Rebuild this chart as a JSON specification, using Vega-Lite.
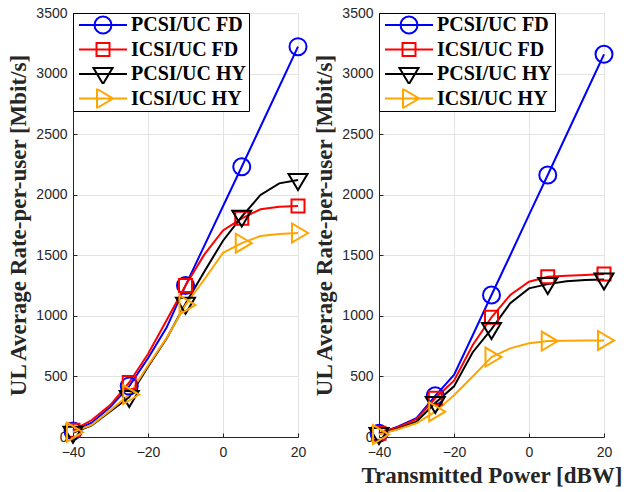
{
  "$schema": "https://vega.github.io/schema/vega-lite/v6.json",
  "background": "white",
  "padding": {"left": 7, "top": 6, "right": 0, "bottom": 0},
  "bounds": "flush",
  "spacing": 81,
  "config": {
    "view": {"stroke": null},
    "axis": {
      "labelFont": "Liberation Sans", "labelFontSize": 14, "labelColor": "#262626",
      "titleFont": "Liberation Serif", "titleFontWeight": "bold", "titleFontSize": 23, "titleColor": "#262626",
      "gridColor": "#e3e3e3", "gridWidth": 1, "domainColor": "#262626", "domainWidth": 1,
      "ticks": true, "tickSize": -4, "tickColor": "#262626", "tickWidth": 1, "titlePadding": 5, "format": "d", "labelFlush": false
    },
    "axisX": {"labelPadding": 12},
    "axisY": {"labelPadding": 10},
    "legend": {"title": null, "orient": "top-left", "offset": 0, "padding": 2, "strokeColor": "#000000", "fillColor": "#ffffff", "symbolSize": 2304, "symbolStrokeWidth": 2, "symbolOffset": 3, "labelOffset": 3, "clipHeight": 20, "labelFont": "Liberation Serif", "labelFontWeight": "bold", "labelFontSize": 20, "labelColor": "#000000", "rowPadding": 4.5}
  },
  "resolve": {"scale": {"color": "independent", "shape": "independent", "x": "independent", "y": "independent"}, "legend": {"color": "independent", "shape": "independent"}},
  "data": {"values": [
    {"p":"L","s":"PCSI/UC FD","x":-40,"y":50},{"p":"L","s":"PCSI/UC FD","x":-35,"y":118},{"p":"L","s":"PCSI/UC FD","x":-30,"y":250},{"p":"L","s":"PCSI/UC FD","x":-25,"y":420},{"p":"L","s":"PCSI/UC FD","x":-20,"y":650},{"p":"L","s":"PCSI/UC FD","x":-15,"y":905},{"p":"L","s":"PCSI/UC FD","x":-10,"y":1250},{"p":"L","s":"PCSI/UC FD","x":-5,"y":1578},{"p":"L","s":"PCSI/UC FD","x":0,"y":1905},{"p":"L","s":"PCSI/UC FD","x":5,"y":2231},{"p":"L","s":"PCSI/UC FD","x":10,"y":2561},{"p":"L","s":"PCSI/UC FD","x":15,"y":2891},{"p":"L","s":"PCSI/UC FD","x":20,"y":3222},
    {"p":"L","s":"ICSI/UC FD","x":-40,"y":55},{"p":"L","s":"ICSI/UC FD","x":-35,"y":140},{"p":"L","s":"ICSI/UC FD","x":-30,"y":265},{"p":"L","s":"ICSI/UC FD","x":-25,"y":450},{"p":"L","s":"ICSI/UC FD","x":-20,"y":685},{"p":"L","s":"ICSI/UC FD","x":-15,"y":965},{"p":"L","s":"ICSI/UC FD","x":-10,"y":1250},{"p":"L","s":"ICSI/UC FD","x":-5,"y":1505},{"p":"L","s":"ICSI/UC FD","x":0,"y":1705},{"p":"L","s":"ICSI/UC FD","x":5,"y":1805},{"p":"L","s":"ICSI/UC FD","x":10,"y":1880},{"p":"L","s":"ICSI/UC FD","x":15,"y":1900},{"p":"L","s":"ICSI/UC FD","x":20,"y":1907},
    {"p":"L","s":"PCSI/UC HY","x":-40,"y":35},{"p":"L","s":"PCSI/UC HY","x":-35,"y":95},{"p":"L","s":"PCSI/UC HY","x":-30,"y":212},{"p":"L","s":"PCSI/UC HY","x":-25,"y":330},{"p":"L","s":"PCSI/UC HY","x":-20,"y":580},{"p":"L","s":"PCSI/UC HY","x":-15,"y":815},{"p":"L","s":"PCSI/UC HY","x":-10,"y":1100},{"p":"L","s":"PCSI/UC HY","x":-5,"y":1365},{"p":"L","s":"PCSI/UC HY","x":0,"y":1620},{"p":"L","s":"PCSI/UC HY","x":5,"y":1819},{"p":"L","s":"PCSI/UC HY","x":10,"y":1998},{"p":"L","s":"PCSI/UC HY","x":15,"y":2094},{"p":"L","s":"PCSI/UC HY","x":20,"y":2122},
    {"p":"L","s":"ICSI/UC HY","x":-40,"y":40},{"p":"L","s":"ICSI/UC HY","x":-35,"y":100},{"p":"L","s":"ICSI/UC HY","x":-30,"y":222},{"p":"L","s":"ICSI/UC HY","x":-25,"y":350},{"p":"L","s":"ICSI/UC HY","x":-20,"y":590},{"p":"L","s":"ICSI/UC HY","x":-15,"y":820},{"p":"L","s":"ICSI/UC HY","x":-10,"y":1090},{"p":"L","s":"ICSI/UC HY","x":-5,"y":1300},{"p":"L","s":"ICSI/UC HY","x":0,"y":1520},{"p":"L","s":"ICSI/UC HY","x":5,"y":1600},{"p":"L","s":"ICSI/UC HY","x":10,"y":1659},{"p":"L","s":"ICSI/UC HY","x":15,"y":1676},{"p":"L","s":"ICSI/UC HY","x":20,"y":1684},
    {"p":"R","s":"PCSI/UC FD","x":-40,"y":30},{"p":"R","s":"PCSI/UC FD","x":-35,"y":85},{"p":"R","s":"PCSI/UC FD","x":-30,"y":155},{"p":"R","s":"PCSI/UC FD","x":-25,"y":340},{"p":"R","s":"PCSI/UC FD","x":-20,"y":512},{"p":"R","s":"PCSI/UC FD","x":-15,"y":840},{"p":"R","s":"PCSI/UC FD","x":-10,"y":1172},{"p":"R","s":"PCSI/UC FD","x":-5,"y":1500},{"p":"R","s":"PCSI/UC FD","x":0,"y":1833},{"p":"R","s":"PCSI/UC FD","x":5,"y":2163},{"p":"R","s":"PCSI/UC FD","x":10,"y":2495},{"p":"R","s":"PCSI/UC FD","x":15,"y":2827},{"p":"R","s":"PCSI/UC FD","x":20,"y":3159},
    {"p":"R","s":"ICSI/UC FD","x":-40,"y":30},{"p":"R","s":"ICSI/UC FD","x":-35,"y":80},{"p":"R","s":"ICSI/UC FD","x":-30,"y":148},{"p":"R","s":"ICSI/UC FD","x":-25,"y":320},{"p":"R","s":"ICSI/UC FD","x":-20,"y":465},{"p":"R","s":"ICSI/UC FD","x":-15,"y":760},{"p":"R","s":"ICSI/UC FD","x":-10,"y":988},{"p":"R","s":"ICSI/UC FD","x":-5,"y":1172},{"p":"R","s":"ICSI/UC FD","x":0,"y":1282},{"p":"R","s":"ICSI/UC FD","x":5,"y":1323},{"p":"R","s":"ICSI/UC FD","x":10,"y":1332},{"p":"R","s":"ICSI/UC FD","x":15,"y":1337},{"p":"R","s":"ICSI/UC FD","x":20,"y":1345},
    {"p":"R","s":"PCSI/UC HY","x":-40,"y":25},{"p":"R","s":"PCSI/UC HY","x":-35,"y":66},{"p":"R","s":"PCSI/UC HY","x":-30,"y":126},{"p":"R","s":"PCSI/UC HY","x":-25,"y":280},{"p":"R","s":"PCSI/UC HY","x":-20,"y":418},{"p":"R","s":"PCSI/UC HY","x":-15,"y":700},{"p":"R","s":"PCSI/UC HY","x":-10,"y":891},{"p":"R","s":"PCSI/UC HY","x":-5,"y":1104},{"p":"R","s":"PCSI/UC HY","x":0,"y":1227},{"p":"R","s":"PCSI/UC HY","x":5,"y":1262},{"p":"R","s":"PCSI/UC HY","x":10,"y":1285},{"p":"R","s":"PCSI/UC HY","x":15,"y":1295},{"p":"R","s":"PCSI/UC HY","x":20,"y":1300},
    {"p":"R","s":"ICSI/UC HY","x":-40,"y":20},{"p":"R","s":"ICSI/UC HY","x":-35,"y":63},{"p":"R","s":"ICSI/UC HY","x":-30,"y":113},{"p":"R","s":"ICSI/UC HY","x":-25,"y":209},{"p":"R","s":"ICSI/UC HY","x":-20,"y":345},{"p":"R","s":"ICSI/UC HY","x":-15,"y":500},{"p":"R","s":"ICSI/UC HY","x":-10,"y":660},{"p":"R","s":"ICSI/UC HY","x":-5,"y":732},{"p":"R","s":"ICSI/UC HY","x":0,"y":773},{"p":"R","s":"ICSI/UC HY","x":5,"y":792},{"p":"R","s":"ICSI/UC HY","x":10,"y":795},{"p":"R","s":"ICSI/UC HY","x":15,"y":797},{"p":"R","s":"ICSI/UC HY","x":20,"y":797}
  ]},
  "hconcat": [
    {
      "width": 225, "height": 424,
      "transform": [{"filter": {"field": "p", "equal": "L"}}],
      "resolve": {"legend": {"color": "independent", "shape": "independent"}},
      "encoding": {
        "x": {"field": "x", "type": "quantitative", "scale": {"domain": [-40, 20], "nice": false}, "axis": {"values": [-40, -20, 0, 20], "title": null}},
        "y": {"field": "y", "type": "quantitative", "scale": {"domain": [0, 3500], "nice": false}, "axis": {"values": [0, 500, 1000, 1500, 2000, 2500, 3000, 3500], "title": "UL Average Rate-per-user [Mbit/s]"}}
      },
      "layer": [
        {"mark": {"type": "line", "strokeWidth": 2},
         "encoding": {"color": {"field": "s", "type": "nominal", "scale": {"domain": ["PCSI/UC FD", "ICSI/UC FD", "PCSI/UC HY", "ICSI/UC HY"], "range": ["#0000ff", "#ff0000", "#000000", "#ffa500"]},
          "legend": {"encode": {"symbols": {"update": {"shape": {"signal": "datum.value === 'PCSI/UC FD' ? 'M-1,0L1,0M0.354,0A0.354,0.354,0,1,1,-0.354,0A0.354,0.354,0,1,1,0.354,0' : datum.value === 'ICSI/UC FD' ? 'M-1,0L1,0M-0.271,-0.271L0.271,-0.271L0.271,0.271L-0.271,0.271Z' : datum.value === 'PCSI/UC HY' ? 'M-1,0L1,0M-0.396,-0.25L0.396,-0.25L0,0.417Z' : 'M-1,0L1,0M-0.25,-0.396L-0.25,0.396L0.417,0Z'"}, "fill": {"value": "transparent"}, "strokeWidth": {"value": 2}}}}}}}},
        {"transform": [{"filter": {"field": "x", "oneOf": [-40, -25, -10, 5, 20]}}],
         "mark": {"type": "point", "filled": false, "strokeWidth": 2, "size": 400, "opacity": 1},
         "encoding": {
           "color": {"field": "s", "type": "nominal", "scale": {"domain": ["PCSI/UC FD", "ICSI/UC FD", "PCSI/UC HY", "ICSI/UC HY"], "range": ["#0000ff", "#ff0000", "#000000", "#ffa500"]}, "legend": null},
           "shape": {"field": "s", "type": "nominal", "scale": {"domain": ["PCSI/UC FD", "ICSI/UC FD", "PCSI/UC HY", "ICSI/UC HY"], "range": ["M0.85,0A0.85,0.85,0,1,1,-0.85,0A0.85,0.85,0,1,1,0.85,0Z", "M-0.65,-0.65L0.65,-0.65L0.65,0.65L-0.65,0.65Z", "M-0.95,-0.6L0.95,-0.6L0,1Z", "M-0.6,-0.95L-0.6,0.95L1,0Z"]}, "legend": null}
         }}
      ]
    },
    {
      "width": 225, "height": 424,
      "transform": [{"filter": {"field": "p", "equal": "R"}}],
      "resolve": {"legend": {"color": "independent", "shape": "independent"}},
      "encoding": {
        "x": {"field": "x", "type": "quantitative", "scale": {"domain": [-40, 20], "nice": false}, "axis": {"values": [-40, -20, 0, 20], "title": "Transmitted Power [dBW]"}},
        "y": {"field": "y", "type": "quantitative", "scale": {"domain": [0, 3500], "nice": false}, "axis": {"values": [0, 500, 1000, 1500, 2000, 2500, 3000, 3500], "title": "UL Average Rate-per-user [Mbit/s]"}}
      },
      "layer": [
        {"mark": {"type": "line", "strokeWidth": 2},
         "encoding": {"color": {"field": "s", "type": "nominal", "scale": {"domain": ["PCSI/UC FD", "ICSI/UC FD", "PCSI/UC HY", "ICSI/UC HY"], "range": ["#0000ff", "#ff0000", "#000000", "#ffa500"]},
          "legend": {"encode": {"symbols": {"update": {"shape": {"signal": "datum.value === 'PCSI/UC FD' ? 'M-1,0L1,0M0.354,0A0.354,0.354,0,1,1,-0.354,0A0.354,0.354,0,1,1,0.354,0' : datum.value === 'ICSI/UC FD' ? 'M-1,0L1,0M-0.271,-0.271L0.271,-0.271L0.271,0.271L-0.271,0.271Z' : datum.value === 'PCSI/UC HY' ? 'M-1,0L1,0M-0.396,-0.25L0.396,-0.25L0,0.417Z' : 'M-1,0L1,0M-0.25,-0.396L-0.25,0.396L0.417,0Z'"}, "fill": {"value": "transparent"}, "strokeWidth": {"value": 2}}}}}}}},
        {"transform": [{"filter": {"field": "x", "oneOf": [-40, -25, -10, 5, 20]}}],
         "mark": {"type": "point", "filled": false, "strokeWidth": 2, "size": 400, "opacity": 1},
         "encoding": {
           "color": {"field": "s", "type": "nominal", "scale": {"domain": ["PCSI/UC FD", "ICSI/UC FD", "PCSI/UC HY", "ICSI/UC HY"], "range": ["#0000ff", "#ff0000", "#000000", "#ffa500"]}, "legend": null},
           "shape": {"field": "s", "type": "nominal", "scale": {"domain": ["PCSI/UC FD", "ICSI/UC FD", "PCSI/UC HY", "ICSI/UC HY"], "range": ["M0.85,0A0.85,0.85,0,1,1,-0.85,0A0.85,0.85,0,1,1,0.85,0Z", "M-0.65,-0.65L0.65,-0.65L0.65,0.65L-0.65,0.65Z", "M-0.95,-0.6L0.95,-0.6L0,1Z", "M-0.6,-0.95L-0.6,0.95L1,0Z"]}, "legend": null}
         }}
      ]
    }
  ]
}
